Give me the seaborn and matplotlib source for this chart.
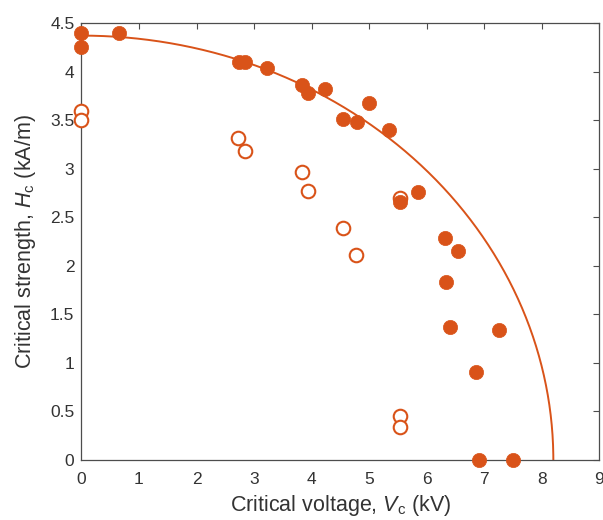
import numpy as np
import pandas as pd
import matplotlib
matplotlib.use("Agg")
import matplotlib.pyplot as plt
import seaborn as sns

# Filled markers (Vc in kV, Hc in kA/m)
filled_v = [0.0, 0.0, 0.65, 2.74, 2.84, 3.23, 3.84, 3.94, 4.24, 4.54, 4.78, 4.99, 5.34,
            5.53, 5.84, 6.31, 6.55, 6.33, 6.40, 7.25, 6.85, 6.90, 7.50]
filled_h = [4.40, 4.25, 4.40, 4.10, 4.10, 4.04, 3.86, 3.78, 3.82, 3.51, 3.48, 3.68, 3.40,
            2.66, 2.76, 2.29, 2.15, 1.83, 1.37, 1.34, 0.91, 0.0, 0.0]

# Open markers
open_v = [0.0, 0.0, 2.72, 2.84, 3.84, 3.94, 4.54, 4.77, 5.53, 5.53, 5.53]
open_h = [3.59, 3.50, 3.32, 3.18, 2.97, 2.77, 2.39, 2.11, 2.70, 0.45, 0.34]

# Boundary curve (elliptic fit) parameters
vc_max = 8.2
hc_max = 4.37

x_ticks = [0, 1, 2, 3, 4, 5, 6, 7, 8, 9]
y_ticks = [0, 0.5, 1, 1.5, 2, 2.5, 3, 3.5, 4, 4.5]
y_tick_labels = ["0", "0.5", "1", "1.5", "2", "2.5", "3", "3.5", "4", "4.5"]

color = "#D95319"
axis_color = "#4d4d4d"

sns.set_style("white")
plt.rcParams["font.family"] = ["Liberation Sans", "DejaVu Sans"]
plt.rcParams["mathtext.fontset"] = "custom"
plt.rcParams["mathtext.it"] = "Liberation Sans:italic"
plt.rcParams["mathtext.rm"] = "Liberation Sans"

fig = plt.figure(figsize=(6.03, 5.20), dpi=100)
ax = fig.add_axes([0.135, 0.1154, 0.859, 0.8404])

theta = np.linspace(0, np.pi / 2, 400)
curve = pd.DataFrame({"v": vc_max * np.sin(theta), "h": hc_max * np.cos(theta)})
sns.lineplot(data=curve, x="v", y="h", ax=ax, color=color, linewidth=1.4,
             sort=False, estimator=None)

df_open = pd.DataFrame({"v": open_v, "h": open_h})
sns.scatterplot(data=df_open, x="v", y="h", ax=ax, s=95, facecolor="white",
                edgecolor=color, linewidth=1.5, clip_on=False, zorder=3)
df_filled = pd.DataFrame({"v": filled_v, "h": filled_h})
sns.scatterplot(data=df_filled, x="v", y="h", ax=ax, s=105, color=color,
                edgecolor=color, linewidth=0.5, clip_on=False, zorder=4)

ax.set_xlim(0, 9)
ax.set_ylim(0, 4.5)
ax.set_xticks(x_ticks)
ax.set_xticklabels([str(t) for t in x_ticks])
ax.set_yticks(y_ticks)
ax.set_yticklabels(y_tick_labels)
ax.tick_params(direction="in", length=4, width=0.8, colors=axis_color,
               labelcolor="#333333", labelsize=12.5, top=True, right=True,
               labeltop=False, labelright=False)
ax.tick_params(axis="x", pad=9)
ax.tick_params(axis="y", pad=5)
for sp in ax.spines.values():
    sp.set_visible(True)
    sp.set_color(axis_color)
    sp.set_linewidth(0.9)

ax.set_xlabel(r"Critical voltage, $V_{\mathrm{c}}$ (kV)", fontsize=15.5, color="#333333", labelpad=4)
ax.set_ylabel(r"Critical strength, $H_{\mathrm{c}}$ (kA/m)", fontsize=15.5, color="#333333", labelpad=9)

fig.savefig("out.png", dpi=100)
